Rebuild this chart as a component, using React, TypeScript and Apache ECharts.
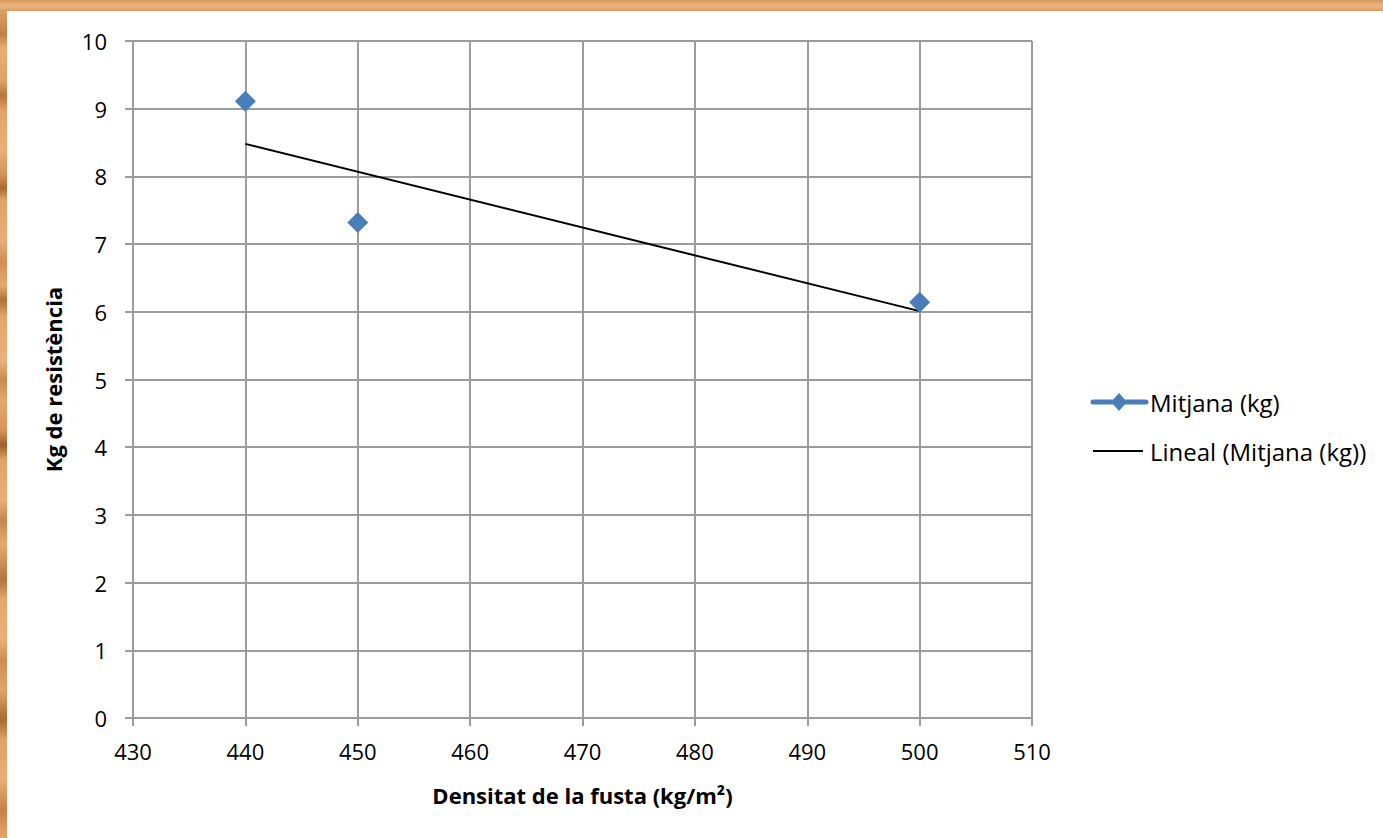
import React, { useEffect, useRef } from "react";
import * as echarts from "echarts";

const xValues = [440, 450, 500];
const meanKg = [9.11, 7.32, 6.14];
const trendX = [440, 500];
const trendY = [8.48, 6.01];
const xTicks = { min: 430, max: 510, interval: 10 };
const yTicks = { min: 0, max: 10, interval: 1 };
const seriesNames = ["Mitjana (kg)", "Lineal (Mitjana (kg))"];

const FONT = "'Open Sans', 'Noto Sans', sans-serif";
const BLUE = "#4A7EBB";
const GRID = "#9c9c9c";

export default function App() {
  const ref = useRef<HTMLDivElement>(null);
  useEffect(() => {
    if (!ref.current) return;
    const chart = echarts.init(ref.current, undefined, { renderer: "svg" });
    chart.setOption({
      animation: false,
      backgroundColor: "#ffffff",
      textStyle: { fontFamily: FONT },
      grid: { left: 126, top: 30, width: 899, height: 677, containLabel: false },
      xAxis: {
        type: "value",
        min: xTicks.min,
        max: xTicks.max,
        interval: xTicks.interval,
        name: "Densitat de la fusta (kg/m²)",
        nameLocation: "middle",
        nameGap: 66,
        nameTextStyle: { fontFamily: FONT, fontSize: 22, fontWeight: "bold", color: "#000" },
        axisLine: { show: true, onZero: false, lineStyle: { color: GRID, width: 2 } },
        axisTick: { show: true, length: 8, lineStyle: { color: GRID, width: 2 } },
        axisLabel: { fontFamily: FONT, fontSize: 22, color: "#000", margin: 22 },
        splitLine: { show: true, lineStyle: { color: GRID, width: 2 } },
      },
      yAxis: {
        type: "value",
        min: yTicks.min,
        max: yTicks.max,
        interval: yTicks.interval,
        name: "Kg de resistència",
        nameLocation: "middle",
        nameGap: 69,
        nameTextStyle: { fontFamily: FONT, fontSize: 22, fontWeight: "bold", color: "#000" },
        axisLine: { show: true, onZero: false, lineStyle: { color: GRID, width: 2 } },
        axisTick: { show: true, length: 8, lineStyle: { color: GRID, width: 2 } },
        axisLabel: { fontFamily: FONT, fontSize: 22, color: "#000", margin: 26 },
        splitLine: { show: true, lineStyle: { color: GRID, width: 2 } },
      },
      series: [
        {
          name: seriesNames[0],
          type: "scatter",
          symbol: "diamond",
          symbolSize: 21,
          itemStyle: { color: BLUE, opacity: 1 },
          data: xValues.map((x, i) => [x, meanKg[i]]),
          z: 3,
        },
        {
          name: seriesNames[1],
          type: "line",
          symbol: "none",
          lineStyle: { color: "#000", width: 2 },
          data: trendX.map((x, i) => [x, trendY[i]]),
          z: 2,
        },
      ],
      graphic: [
        {
          type: "line",
          shape: { x1: 1086, y1: 391, x2: 1139, y2: 391 },
          style: { stroke: BLUE, lineWidth: 5, lineCap: "round" },
        },
        {
          type: "polygon",
          shape: { points: [[1112, 382], [1120, 391], [1112, 400], [1104, 391]] },
          style: { fill: BLUE },
        },
        {
          type: "text",
          x: 1143,
          y: 391,
          style: { text: seriesNames[0], fontFamily: FONT, fontSize: 24, fill: "#000", verticalAlign: "middle" },
        },
        {
          type: "line",
          shape: { x1: 1086, y1: 440, x2: 1136, y2: 440 },
          style: { stroke: "#000", lineWidth: 2 },
        },
        {
          type: "text",
          x: 1143,
          y: 440,
          style: { text: seriesNames[1], fontFamily: FONT, fontSize: 24, fill: "#000", verticalAlign: "middle" },
        },
      ],
    });
    return () => chart.dispose();
  }, []);

  const woodSide =
    "linear-gradient(180deg, #e3a86f 0px, #d4955a 20px, #c08048 34px, #e6ae77 48px, #dda266 80px, #b7763e 96px, #e2a66c 112px, #e8b07a 150px, #d39357 175px, #a86a34 188px, #dfa36a 200px, #e7af79 240px, #cf8f54 262px, #e5ab72 285px, #b06f38 300px, #e0a56b 316px, #e9b27c 360px, #c98a50 380px, #e3a86f 400px, #d69659 430px, #9e5e2b 445px, #dfa36a 460px, #e8b07a 500px, #c58650 520px, #e4aa71 545px, #b47540 580px, #e3a86f 600px, #e8b07a 640px, #cd8d52 660px, #e0a56b 690px, #a86a34 720px, #dea468 740px, #e6ae77 780px, #c4834a 810px, #e2a66c 838px)";
  const woodTop = "linear-gradient(180deg, #d4955a 0px, #e6ad76 4px, #e9b37e 7px, #d89a5f 11px)";

  return (
    <div style={{ position: "fixed", left: 0, top: 0, width: 1383, height: 838, background: woodSide, overflow: "hidden" }}>
      <div style={{ position: "absolute", left: 0, top: 0, width: 1383, height: 11, background: woodTop }} />
      <div style={{ position: "absolute", left: 7, top: 11, width: 1376, height: 827, background: "#fff" }}>
        <div ref={ref} style={{ width: 1376, height: 827 }} />
      </div>
    </div>
  );
}
